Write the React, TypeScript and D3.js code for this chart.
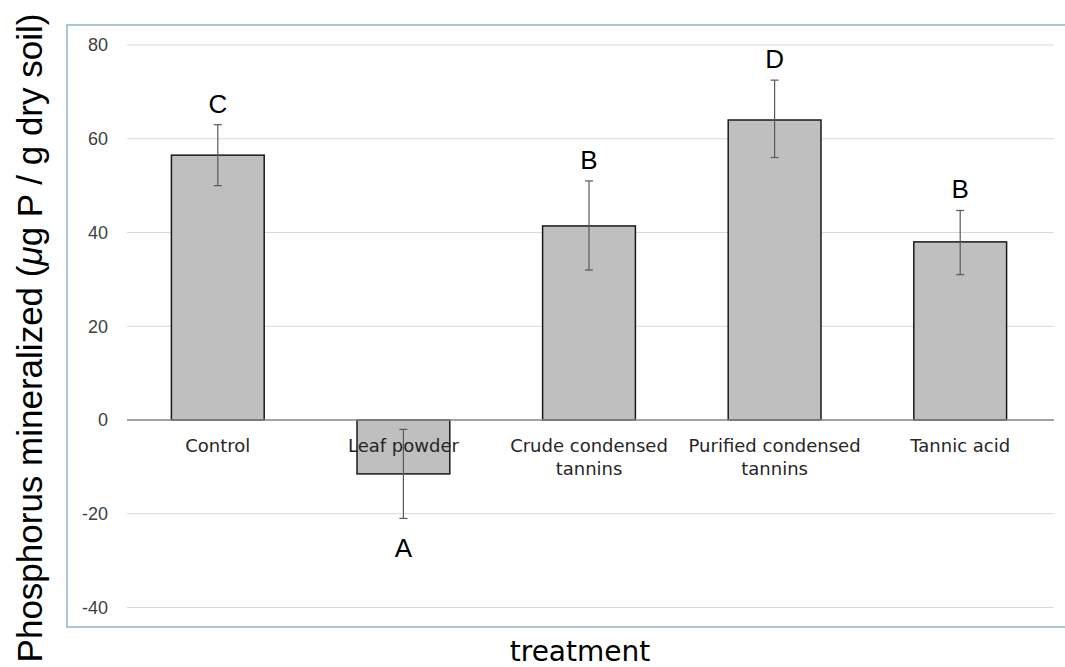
import React from "react";
import * as d3 from "d3";

const categories = [
  ["Control"],
  ["Leaf powder"],
  ["Crude condensed", "tannins"],
  ["Purified condensed", "tannins"],
  ["Tannic acid"],
];
const means = [56.5, -11.5, 41.4, 64, 38];
const errLow = [50, -21, 32, 56, 31];
const errHigh = [63, -2, 51, 72.5, 44.7];
const letters = ["C", "A", "B", "D", "B"];
const letterBelow = [false, true, false, false, false];
const yTicks = [-40, -20, 0, 20, 40, 60, 80];

const W = 1065;
const H = 667;

export default function App() {
  const x = d3
    .scaleBand<number>()
    .domain(d3.range(categories.length))
    .range([125, 1053])
    .paddingInner(0.5)
    .paddingOuter(0.25);
  const y = d3.scaleLinear().domain([-40, 80]).range([607.5, 45]);
  const bw = x.bandwidth();

  return (
    <svg
      width={W}
      height={H}
      style={{ position: "fixed", left: 0, top: 0, background: "#fff" }}
    >
      <rect x={67} y={25} width={1000} height={602} fill="none" stroke="#8eb4d3" strokeWidth={1.5} />

      {/* gridlines */}
      {yTicks.map((t) => (
        <line
          key={t}
          x1={127}
          x2={1054}
          y1={y(t)}
          y2={y(t)}
          stroke="#d9d9d9"
          strokeWidth={1}
        />
      ))}
      {yTicks.map((t) => (
        <text
          key={"l" + t}
          x={108}
          y={y(t)}
          dy="0.35em"
          textAnchor="end"
          fontFamily="'Liberation Sans', Arial, sans-serif"
          fontSize={18}
          fill="#404040"
        >
          {t}
        </text>
      ))}

      {/* bars */}
      {means.map((m, i) => (
        <rect
          key={i}
          x={x(i)}
          y={Math.min(y(m), y(0))}
          width={bw}
          height={Math.abs(y(m) - y(0))}
          fill="#bfbfbf"
          stroke="#1a1a1a"
          strokeWidth={1.5}
        />
      ))}

      <line x1={127} x2={1054} y1={y(0)} y2={y(0)} stroke="#8c8c8c" strokeWidth={1.5} />

      {/* category labels */}
      {categories.map((lines, i) => (
        <text
          key={"c" + i}
          x={(x(i) ?? 0) + bw / 2}
          y={452}
          textAnchor="middle"
          fontFamily="'DejaVu Sans', Verdana, sans-serif"
          fontSize={18}
          fill="#262626"
        >
          {lines.map((s, j) => (
            <tspan key={j} x={(x(i) ?? 0) + bw / 2} dy={j === 0 ? 0 : 23}>
              {s}
            </tspan>
          ))}
        </text>
      ))}

      {/* error bars */}
      {means.map((m, i) => {
        const cx = (x(i) ?? 0) + bw / 2;
        return (
          <g key={"e" + i} stroke="#595959" strokeWidth={1.2}>
            <line x1={cx} x2={cx} y1={y(errLow[i])} y2={y(errHigh[i])} />
            <line x1={cx - 4} x2={cx + 4} y1={y(errLow[i])} y2={y(errLow[i])} />
            <line x1={cx - 4} x2={cx + 4} y1={y(errHigh[i])} y2={y(errHigh[i])} />
          </g>
        );
      })}

      {/* significance letters */}
      {letters.map((l, i) => (
        <text
          key={"s" + i}
          x={(x(i) ?? 0) + bw / 2}
          y={letterBelow[i] ? y(errLow[i]) + 39 : y(errHigh[i]) - 12}
          textAnchor="middle"
          fontFamily="'Liberation Sans', Arial, sans-serif"
          fontSize={26}
          fill="#000"
        >
          {l}
        </text>
      ))}

      {/* axis titles */}
      <text
        transform={`translate(42,338) rotate(-90)`}
        textAnchor="middle"
        fontFamily="'Liberation Sans', Arial, sans-serif"
        fontSize={35}
        fill="#000"
      >
        Phosphorus mineralized (<tspan fontStyle="italic">μ</tspan>g P / g dry soil)
      </text>
      <text
        x={580}
        y={661}
        textAnchor="middle"
        fontFamily="'DejaVu Sans', Verdana, sans-serif"
        fontSize={28}
        fill="#000"
      >
        treatment
      </text>
    </svg>
  );
}
